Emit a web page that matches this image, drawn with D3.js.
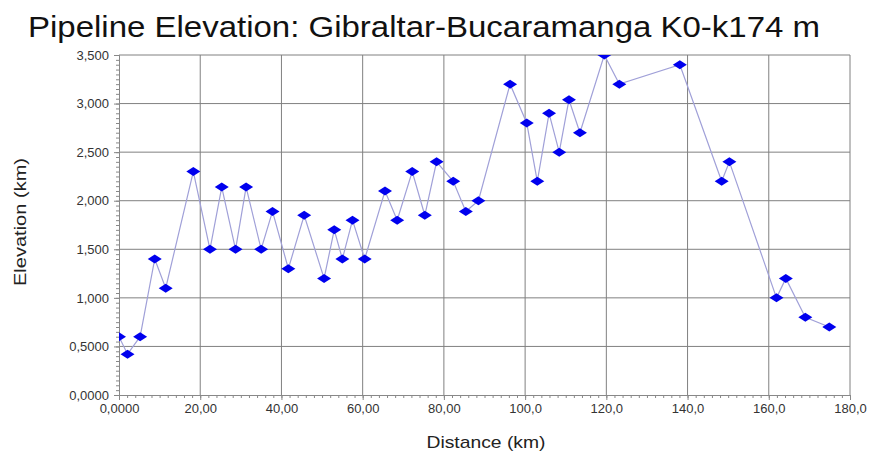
<!DOCTYPE html>
<html>
<head>
<meta charset="utf-8">
<script src="https://cdn.jsdelivr.net/npm/d3@7"></script>
<style>
  body { margin: 0; background: #fff; }
  text { font-family: "Liberation Sans", Arial, sans-serif; }
</style>
</head>
<body>
<svg id="chart" width="870" height="455"></svg>
<script>
const distance = [0, 2.1, 5.2, 8.8, 11.5, 18.3, 22.4, 25.3, 28.7, 31.3, 35, 37.8, 41.7, 45.6, 50.5,
  53, 55, 57.5, 60.5, 65.5, 68.5, 72.2, 75.3, 78.2, 82.3, 85.4, 88.5, 96.3, 100.4, 103, 105.9,
  108.4, 110.8, 113.5, 119.5, 123.2, 138.1, 148.4, 150.3, 161.9, 164.2, 169, 174.9];
const elevation = [0.6, 0.42, 0.6, 1.4, 1.1, 2.3, 1.5, 2.14, 1.5, 2.14, 1.5, 1.89, 1.3, 1.85, 1.2,
  1.7, 1.4, 1.8, 1.4, 2.1, 1.8, 2.3, 1.85, 2.4, 2.2, 1.89, 2.0, 3.2, 2.8, 2.2, 2.9,
  2.5, 3.04, 2.7, 3.5, 3.2, 3.4, 2.2, 2.4, 1.0, 1.2, 0.8, 0.7];
const xTicks = [0, 20, 40, 60, 80, 100, 120, 140, 160, 180];
const xTickLabels = ["0,0000", "20,00", "40,00", "60,00", "80,00", "100,0", "120,0", "140,0", "160,0", "180,0"];
const yTicks = [0, 0.5, 1, 1.5, 2, 2.5, 3, 3.5];
const yTickLabels = ["0,0000", "0,5000", "1,000", "1,500", "2,000", "2,500", "3,000", "3,500"];

const svg = d3.select("#chart");
const plotLeft = 119, plotRight = 850, plotTop = 55, plotBottom = 395;

const x = d3.scaleLinear().domain([0, 180]).range([plotLeft, plotRight]);
const y = d3.scaleLinear().domain([0, 3.5]).range([plotBottom, plotTop]);

const points = distance.map((d, i) => ({x: d, y: elevation[i]}));

// title
svg.append("text")
    .attr("x", 424).attr("y", 37)
    .attr("text-anchor", "middle")
    .attr("textLength", 792)
    .attr("lengthAdjust", "spacingAndGlyphs")
    .style("font-size", "29px")
    .style("fill", "#111")
    .text("Pipeline Elevation: Gibraltar-Bucaramanga K0-k174 m");

// grid
svg.append("g").selectAll("line")
    .data(xTicks.slice(1))
    .enter().append("line")
    .attr("x1", d => x(d)).attr("x2", d => x(d))
    .attr("y1", plotTop).attr("y2", plotBottom)
    .attr("stroke", "#808080").attr("stroke-width", 1);
svg.append("g").selectAll("line")
    .data(yTicks.slice(1))
    .enter().append("line")
    .attr("x1", plotLeft).attr("x2", plotRight)
    .attr("y1", d => y(d)).attr("y2", d => y(d))
    .attr("stroke", "#808080").attr("stroke-width", 1);

// axes
const xAxis = d3.axisBottom(x)
    .tickValues(xTicks)
    .tickFormat((d, i) => xTickLabels[i])
    .tickSize(5);
const xMinor = d3.axisBottom(x).tickValues(d3.range(0, 181, 2)).tickFormat("").tickSize(3);
const yAxis = d3.axisLeft(y)
    .tickValues(yTicks)
    .tickFormat((d, i) => yTickLabels[i])
    .tickSize(5);
const yMinor = d3.axisLeft(y).tickValues(d3.range(0, 3.501, 0.05)).tickFormat("").tickSize(3);

function styleAxis(g) {
    g.selectAll("path").attr("stroke", "#888");
    g.selectAll("line").attr("stroke", "#888");
    g.selectAll("text").style("font-size", "13px").style("fill", "#333");
}

svg.append("g").attr("transform", `translate(0,${plotBottom})`).call(xMinor).call(styleAxis);
svg.append("g").attr("transform", `translate(0,${plotBottom})`).call(xAxis).call(styleAxis)
    .selectAll("text").attr("y", 18).attr("dy", 0);
svg.append("g").attr("transform", `translate(${plotLeft},0)`).call(yMinor).call(styleAxis);
svg.append("g").attr("transform", `translate(${plotLeft},0)`).call(yAxis).call(styleAxis)
    .selectAll("text").attr("x", -10);

// axis titles
svg.append("text")
    .attr("x", 486).attr("y", 448)
    .attr("text-anchor", "middle")
    .attr("textLength", 119)
    .attr("lengthAdjust", "spacingAndGlyphs")
    .style("font-size", "17px").style("fill", "#222")
    .text("Distance (km)");
svg.append("text")
    .attr("transform", "translate(26,222) rotate(-90)")
    .attr("text-anchor", "middle")
    .attr("textLength", 128)
    .attr("lengthAdjust", "spacingAndGlyphs")
    .style("font-size", "17px").style("fill", "#222")
    .text("Elevation (km)");

// clip
svg.append("clipPath").attr("id", "plotclip")
    .append("rect").attr("x", plotLeft).attr("y", plotTop)
    .attr("width", plotRight - plotLeft).attr("height", plotBottom - plotTop);

const plot = svg.append("g").attr("clip-path", "url(#plotclip)");

const line = d3.line().x(d => x(d.x)).y(d => y(d.y));
plot.append("path")
    .datum(points)
    .attr("d", line)
    .attr("fill", "none")
    .attr("stroke", "#a0a0d8")
    .attr("stroke-width", 1.2);

plot.selectAll("path.marker")
    .data(points)
    .enter().append("path")
    .attr("class", "marker")
    .attr("d", "M-7,0L0,-4.5L7,0L0,4.5Z")
    .attr("transform", d => `translate(${x(d.x)},${y(d.y)})`)
    .attr("fill", "#0000ee");
</script>
</body>
</html>
